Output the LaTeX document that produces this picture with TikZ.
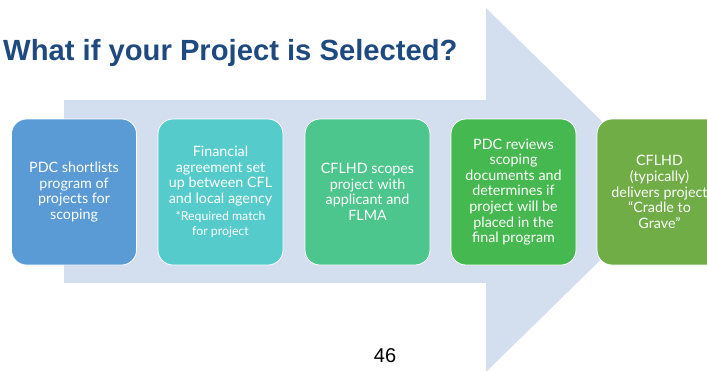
\documentclass[tikz,border=0pt]{standalone}
\usepackage{fontspec}
\setmainfont{Lato}
\newfontfamily\arialfont{Liberation Sans}
\begin{document}
\begin{tikzpicture}[x=1pt,y=-1pt,
  stepbox/.style={rectangle, rounded corners=15pt, draw=white, line width=0.8pt,
    minimum width=125pt, minimum height=146pt, text=white, align=center,
    font=\fontsize{14.3}{15.6}\selectfont, inner sep=2pt}]
\definecolor{arrowc}{HTML}{D3DEEF}
\definecolor{titlec}{HTML}{1F4A80}
\definecolor{cA}{HTML}{5B9BD5}
\definecolor{cB}{HTML}{55CCCB}
\definecolor{cC}{HTML}{4DC68E}
\definecolor{cD}{HTML}{45B94F}
\definecolor{cE}{HTML}{70AD47}
\useasboundingbox (0,0) rectangle (707,370);
\clip (0,0) rectangle (707,370);
% big background arrow
\fill[arrowc] (64,100) -- (486,100) -- (486,8) -- (672,190) -- (486,372) -- (486,283) -- (64,283) -- cycle;
% title
\node[anchor=base west, inner sep=0, text=titlec, font=\arialfont\bfseries\fontsize{29.2}{33}\selectfont] (title) at (3,60) {What if your Project is Selected?};
% steps
\node[stepbox, fill=cA] (s1) at (74,192) {PDC shortlists\\program of\\projects for\\scoping};
\node[stepbox, fill=cB] (s2) at (220.5,192) {Financial\\agreement set\\up between CFL\\and local agency\\[1pt]{\fontsize{12.3}{14}\selectfont *Required match}\\{\fontsize{12.3}{14}\selectfont for project}};
\node[stepbox, fill=cC] (s3) at (367.5,192) {CFLHD scopes\\project with\\applicant and\\FLMA};
\node[stepbox, fill=cD] (s4) at (513.5,192) {PDC reviews\\scoping\\documents and\\determines if\\project will be\\placed in the\\final program};
\node[stepbox, fill=cE] (s5) at (659.5,192) {CFLHD\\(typically)\\delivers project\\``Cradle to\\Grave''};
% page number
\node[anchor=base, inner sep=0, font=\arialfont\fontsize{20}{24}\selectfont] (num) at (385,362) {46};
\end{tikzpicture}
\end{document}
